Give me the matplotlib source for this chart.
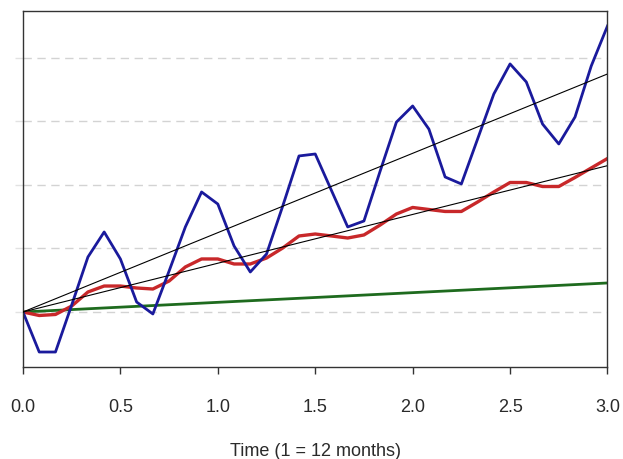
import matplotlib
matplotlib.use("Agg")
import matplotlib.pyplot as plt
import numpy as np

plt.rcParams['font.family'] = ['Liberation Sans', 'DejaVu Sans']

# monthly time points over three years
months = list(range(37))

blue_vals = [0.0, -0.63, -0.63, 0.11, 0.866, 1.26, 0.835, 0.157, -0.031, 0.646,
             1.339, 1.89, 1.70, 1.04, 0.63, 0.913, 1.67, 2.457, 2.488, 1.913,
             1.339, 1.433, 2.22, 2.99, 3.244, 2.88, 2.126, 2.016, 2.724, 3.433,
             3.906, 3.622, 2.96, 2.646, 3.07, 3.874, 4.504]

red_vals = [0.0, -0.055, -0.039, 0.094, 0.315, 0.409, 0.409, 0.378, 0.362, 0.488,
            0.709, 0.835, 0.835, 0.756, 0.756, 0.85, 1.008, 1.197, 1.228, 1.197,
            1.165, 1.213, 1.37, 1.543, 1.646, 1.614, 1.583, 1.583, 1.732, 1.89,
            2.039, 2.039, 1.976, 1.976, 2.118, 2.268, 2.417]

green_t = [0.0, 3.0]
green_vals = [0.0, 0.457]

trend_t = [0.0, 3.0]
trend_upper = [0.0, 3.748]
trend_lower = [0.0, 2.304]

x_ticks = [0.0, 0.5, 1.0, 1.5, 2.0, 2.5, 3.0]
x_ticklabels = ["0.0", "0.5", "1.0", "1.5", "2.0", "2.5", "3.0"]
y_grid = [0, 1, 2, 3, 4]
x_label = "Time (1 = 12 months)"

t = np.array(months) / 12.0

fig = plt.figure(figsize=(6.23, 4.60), dpi=100)
ax = fig.add_axes([0.0369, 0.2, 0.9382, 0.7733])

for yv in y_grid:
    ax.axhline(yv, color='#d3d3d3', lw=1.0, ls=(0, (6, 4)), zorder=0)

ax.plot(trend_t, trend_upper, color='black', lw=0.8, zorder=3)
ax.plot(trend_t, trend_lower, color='black', lw=0.8, zorder=3)
ax.plot(green_t, green_vals, color='#1e6b1e', lw=2.0, zorder=2)
ax.plot(t, red_vals, color='#c8282a', lw=2.4, zorder=2)
ax.plot(t, blue_vals, color='#1a1a9c', lw=2.0, zorder=2)

ax.set_xlim(0, 3)
ax.set_ylim(-0.866, 4.735)

ax.set_xticks(x_ticks)
ax.set_xticklabels(x_ticklabels, fontsize=13, color='#2a2a2a')
ax.set_yticks(y_grid)
ax.set_yticklabels([])
ax.tick_params(axis='x', length=5, width=1, color='#333333', pad=17.5)
ax.tick_params(axis='y', length=6, width=1, color='#e2e2e2')

ax.set_xlabel(x_label, fontsize=13, color='#2a2a2a', labelpad=19)

for s in ax.spines.values():
    s.set_color('#333333')
    s.set_linewidth(1.0)

fig.savefig("out.png", dpi=100)
